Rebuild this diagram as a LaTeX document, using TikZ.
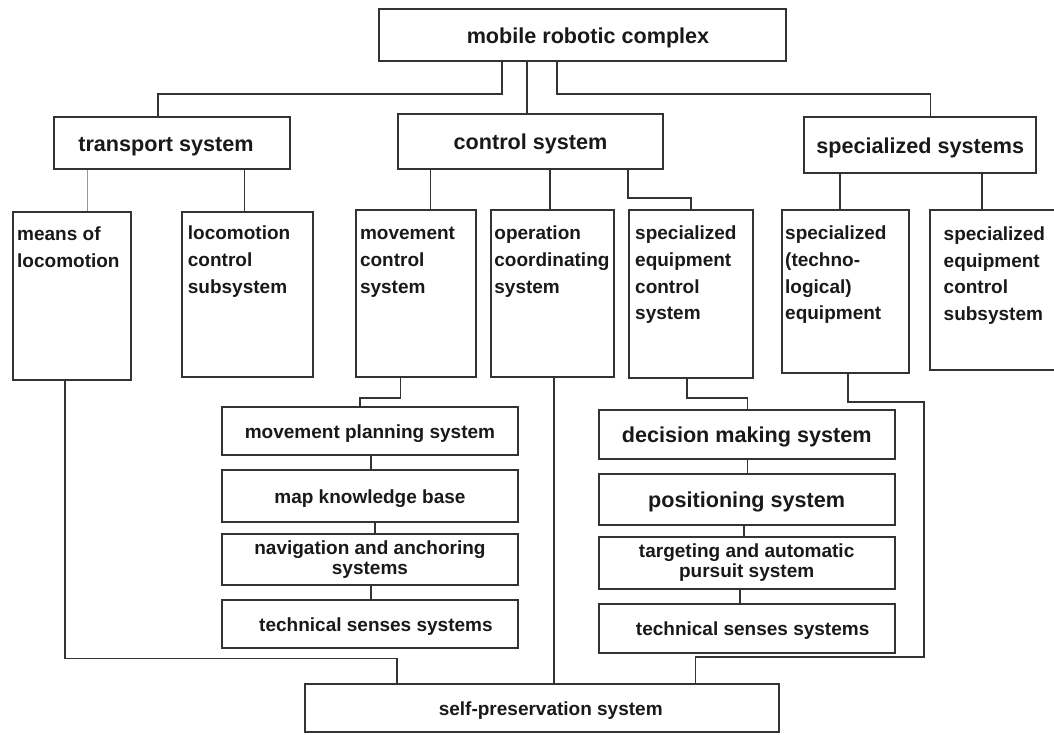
\documentclass[tikz,border=0pt]{standalone}
\usepackage{fontspec}
\setmainfont{Liberation Sans}
\newcommand{\firststrut}{\rule{0pt}{14pt}}
\begin{document}
\begin{tikzpicture}[x=1pt,y=-1pt,
  box/.style={draw=black!80, line width=2pt, inner sep=0pt, anchor=north west, text=black!90},
  hd/.style={font=\bfseries\fontsize{21.6}{26}\selectfont, text height=16pt, text depth=0pt},
  bd/.style={font=\bfseries\fontsize{19}{26.8}\selectfont, text height=14pt, text depth=0pt},
  tl/.style={font=\bfseries\fontsize{19}{26.8}\selectfont, align=left, anchor=north west, inner sep=0pt, text=black!90},
  wire/.style={draw=black!80, line width=1.8pt},
  thinwire/.style={draw=black!40, line width=0.8pt}]
\useasboundingbox (0,0) rectangle (1054,734);

% top level
\node[box,hd,minimum width=407pt,minimum height=52pt] (top) at (378,8) {\hspace*{11pt}mobile robotic complex};
\node[box,hd,minimum width=236pt,minimum height=52pt] (tr) at (53,116) {transport system\hspace*{12pt}};
\node[box,hd,minimum width=265pt,minimum height=55pt] (cs) at (397,113) {control system};
\node[box,hd,minimum width=231.6pt,minimum height=56pt] (ss) at (803.4,116) {specialized systems};

% second row (tall boxes)
\node[box,minimum width=117.1pt,minimum height=168pt] (mol) at (12.4,211) {};
\node[box,minimum width=131.5pt,minimum height=165pt] (lcs) at (180.8,211) {};
\node[box,minimum width=119.8pt,minimum height=167pt] (mcs) at (355.4,209) {};
\node[box,minimum width=123.3pt,minimum height=167pt] (ocs) at (489.7,209) {};
\node[box,minimum width=123.3pt,minimum height=168pt] (secs) at (628.3,209) {};
\node[box,minimum width=127.4pt,minimum height=163pt] (ste) at (780.9,209) {};
\node[box,minimum width=140pt,minimum height=160pt] (secss) at (929.4,209) {};

\node[tl] (molT) at (17,226.5) {\firststrut means of\\locomotion};
\node[tl] (lcsT) at (187.7,225.3) {\firststrut locomotion\\control\\subsystem};
\node[tl] (mcsT) at (359.8,225.3) {\firststrut movement\\control\\system};
\node[tl] (ocsT) at (494.2,225.3) {\firststrut operation\\coordinating\\system};
\node[tl] (secsT) at (635,225.3) {\firststrut specialized\\equipment\\control\\system};
\node[tl] (steT) at (785,225.3) {\firststrut specialized\\(techno-\\logical)\\equipment};
\node[tl] (secssT) at (943.5,226) {\firststrut specialized\\equipment\\control\\subsystem};

% lower left column
\node[box,bd,minimum width=295.1pt,minimum height=48pt] (mps) at (221.4,406) {movement planning system};
\node[box,bd,minimum width=295.1pt,minimum height=52pt] (mkb) at (221.4,469) {map knowledge base};
\node[box,align=center,font=\bfseries\fontsize{19}{20}\selectfont,minimum width=295.1pt,minimum height=51pt] (nas) at (221.4,533) {navigation and anchoring\\systems};
\node[box,bd,minimum width=295.1pt,minimum height=48pt] (tss1) at (221.4,599) {\hspace*{12pt}technical senses systems};

% lower right column
\node[box,hd,minimum width=295.9pt,minimum height=49pt] (dms) at (597.7,409) {decision making system};
\node[box,hd,minimum width=295.9pt,minimum height=51pt] (pos) at (597.7,473) {positioning system};
\node[box,align=center,font=\bfseries\fontsize{19}{20}\selectfont,minimum width=295.9pt,minimum height=52pt] (tap) at (597.7,536) {targeting and automatic\\pursuit system};
\node[box,bd,minimum width=295.9pt,minimum height=49pt] (tss2) at (597.7,603) {\hspace*{12pt}technical senses systems};

% bottom
\node[box,bd,minimum width=474.1pt,minimum height=48pt] (spx) at (303.7,683) {\hspace*{18pt}self-preservation system};

% connectors
\draw[wire] (top.south -| 502,0) -- (502,94) -| (tr.north -| 158,0);
\draw[wire] (top.south -| 527,0) -- (cs.north -| 527,0);
\draw[wire] (top.south -| 556.8,0) -- (556.8,94) -| (ss.north -| 930.4,0);
\draw[thinwire] (tr.south -| 87.8,0) -- (mol.north -| 87.8,0);
\draw[wire] (tr.south -| 244.5,0) -- (lcs.north -| 244.5,0);
\draw[wire] (cs.south -| 430.4,0) -- (mcs.north -| 430.4,0);
\draw[wire] (cs.south -| 550,0) -- (ocs.north -| 550,0);
\draw[wire] (cs.south -| 628.3,0) -- (628.3,198.3) -| (secs.north -| 691.3,0);
\draw[wire] (ss.south -| 840.2,0) -- (ste.north -| 840.2,0);
\draw[wire] (ss.south -| 982.2,0) -- (secss.north -| 982.2,0);
\draw[wire] (mcs.south -| 400.5,0) -- (400.5,398.3) -| (mps.north -| 359.8,0);
\draw[wire] (mps.south -| 370.9,0) -- (mkb.north -| 370.9,0);
\draw[wire] (mkb.south -| 374.7,0) -- (nas.north -| 374.7,0);
\draw[wire] (nas.south -| 370.9,0) -- (tss1.north -| 370.9,0);
\draw[wire] (secs.south -| 686.9,0) -- (686.9,398) -| (dms.north -| 747.5,0);
\draw[wire] (dms.south -| 747.5,0) -- (pos.north -| 747.5,0);
\draw[wire] (pos.south -| 743.8,0) -- (tap.north -| 743.8,0);
\draw[wire] (tap.south -| 739.7,0) -- (tss2.north -| 739.7,0);
\draw[wire] (mol.south -| 65.1,0) -- (65.1,658.5) -| (spx.north -| 397,0);
\draw[wire] (ocs.south -| 554,0) -- (spx.north -| 554,0);
\draw[wire] (ste.south -| 847.7,0) -- (847.7,402) -- (923.6,402) -- (923.6,657) -| (spx.north -| 695.4,0);
\end{tikzpicture}
\end{document}
